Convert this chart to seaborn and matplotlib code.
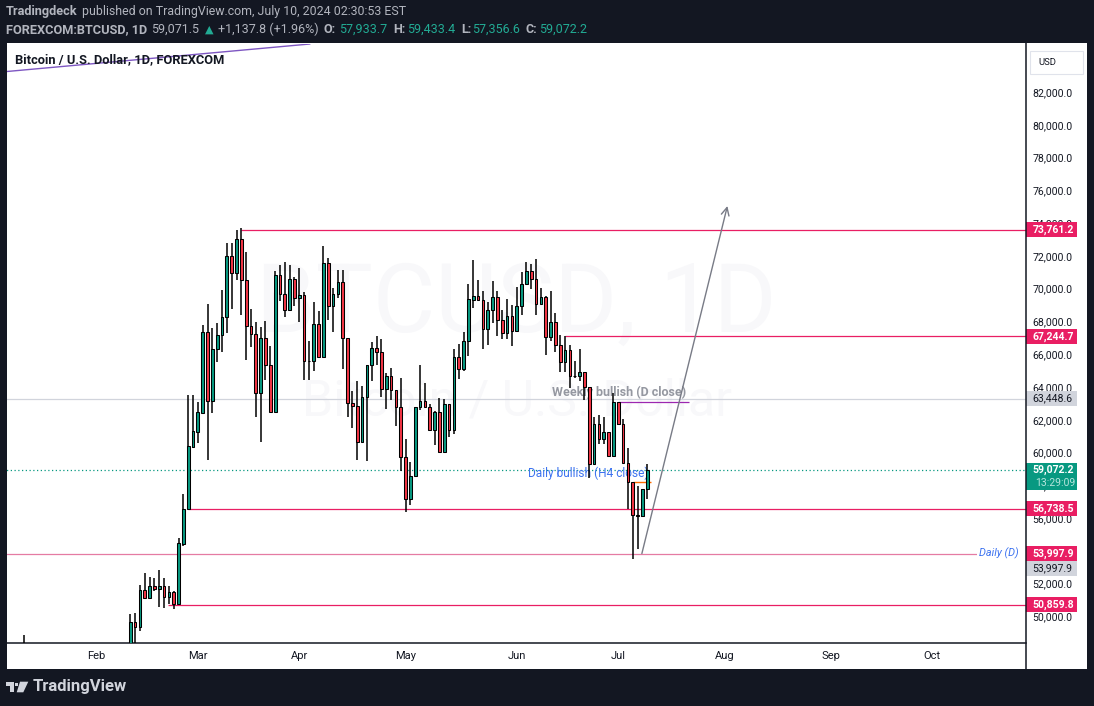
import matplotlib
matplotlib.use("Agg")
import matplotlib.pyplot as plt
from matplotlib.lines import Line2D
from matplotlib.patches import Polygon, Rectangle
import numpy as np
import pandas as pd
import seaborn as sns

# ── Data ──────────────────────────────────────────────────────────────────────
opens = [
    48114, 49823, 49536, 51757, 51305, 52001, 51855, 52001, 51366, 51635,
    50939, 54582, 56700, 60501, 61435, 62594, 67500, 63326, 66463, 67317,
    68415, 72138, 71100, 73175, 70673, 67866, 67378, 63778, 67134, 65486,
    62619, 70978, 69819, 68843, 70734, 69612, 69758, 65731, 65731, 67988,
    65975, 71711, 69123, 69819, 70551, 67134, 63168, 63033, 60825, 63534,
    65486, 66524, 66316, 64022, 64815, 63949, 62924, 59873, 57310, 58713,
    62924, 63290, 62960, 61539, 62619, 60178, 63107, 61539, 65975, 65279,
    66951, 69471, 69697, 69453, 67720, 68843, 69636, 68232, 67439, 68495,
    67598, 69087, 70429, 71222, 70722, 69245, 69636, 67232, 68110, 66695,
    65706, 66402, 64852, 64852, 65059, 64144, 59446, 61886, 60971, 61398,
    59934, 63229, 61886, 59507, 58347, 56333, 56272, 57933.7,
]
closes = [
    49823, 49536, 51757, 51305, 52001, 51855, 52001, 51366, 51635, 50939,
    54625, 56700, 60544, 61459, 62619, 67500, 63326, 66463, 67317, 68415,
    72138, 71100, 73175, 70673, 67866, 67378, 63778, 67134, 65486, 62619,
    70978, 69819, 68843, 70734, 69612, 69758, 65731, 65731, 67988, 65975,
    71711, 69123, 69819, 70551, 67134, 63168, 63033, 60825, 63534, 65486,
    66524, 66316, 64022, 64815, 63949, 62924, 59873, 57310, 58713, 62924,
    63290, 62960, 61539, 62619, 60178, 63107, 61539, 65975, 65279, 66951,
    69514, 69697, 69453, 67720, 68843, 69636, 68232, 67439, 68495, 67598,
    69087, 70429, 71222, 70722, 69245, 69636, 67232, 68110, 66695, 65706,
    66402, 64852, 64852, 65059, 64144, 59446, 61886, 60971, 61398, 59934,
    63229, 61886, 59507, 58347, 56333, 56272, 57920, 59072.2,
]
highs = [
    50311, 50372, 52080, 52813, 52569, 52508, 52996, 52508, 52019, 51714,
    54948, 57633, 63674, 63674, 63247, 67946, 69227, 67763, 68068, 70081,
    72949, 72949, 73743, 73846, 72382, 68922, 68110, 67805, 68171, 66664,
    71241, 71607, 71771, 71607, 70875, 71424, 69959, 66969, 69331, 68782,
    72748, 72016, 70185, 71283, 71302, 67134, 63918, 64528, 64223, 65486,
    66890, 67274, 67091, 64998, 65322, 63949, 64693, 60971, 59604, 62924,
    65486, 64388, 63107, 62698, 63473, 63412, 63107, 66481, 66768, 67500,
    70447, 71912, 70692, 70002, 69349, 70612, 70002, 68861, 69514, 69166,
    70283, 71161, 71771, 71668, 71955, 70185, 69715, 70002, 68660, 67317,
    67256, 66707, 65731, 66481, 65059, 64144, 62350, 62435, 62313, 61398,
    63778, 63229, 62210, 60422, 58347, 58140, 57920, 59433.4,
]
lows = [
    47800, 48419, 49273, 51305, 51305, 51714, 50756, 50695, 50921, 50634,
    50939, 54460, 56700, 60458, 60764, 62533, 59708, 62594, 65706, 66280,
    67457, 68940, 70692, 68556, 65810, 66621, 62350, 60825, 64590, 62619,
    62619, 69410, 68434, 68843, 69105, 68129, 64590, 64590, 65139, 65975,
    65975, 68251, 67518, 69575, 65279, 62350, 61661, 59708, 60825, 59647,
    64547, 65505, 63571, 62838, 63369, 61801, 59055, 56553, 56962, 58713,
    62759, 62924, 61496, 60623, 60178, 60178, 61130, 61294, 64669, 65157,
    66054, 69001, 69453, 66499, 66725, 68086, 67274, 67110, 67073, 66664,
    67598, 68574, 70429, 70142, 68574, 69245, 66115, 66951, 66316, 65096,
    65096, 64083, 64712, 64547, 63369, 58591, 59446, 60684, 60684, 59934,
    59934, 61825, 59507, 56700, 53649, 54295, 56212, 57356.6,
]
# lone January wick that pokes above the bottom of the pane
jan_bar, jan_high, jan_low = -22, 49029, 47500

month_pos = [-7, 14, 35, 57, 80, 101, 123, 145, 166]
month_labels = ["Feb", "Mar", "Apr", "May", "Jun", "Jul", "Aug", "Sep", "Oct"]
price_ticks = list(range(50000, 82001, 2000))

# ── Palette ───────────────────────────────────────────────────────────────────
DARK = "#131722"
GREEN = "#089981"
RED = "#f23645"
PINK = "#e91e63"
PINK_SOFT = "#e57ba3"
GREY_LINE = "#d1d4dc"
BLUE = "#3d73f0"
WATERMARK = "#f8f8fa"
HEAD_TEXT = "#b2b5be"
HEAD_VALUE = "#22ab94"

W, H = 1094, 706
sns.set_theme(style="white")
plt.rcParams["font.family"] = ["Roboto", "DejaVu Sans"]

fig = plt.figure(figsize=(W / 100, H / 100), dpi=100, facecolor=DARK)


def fx(x):
    return x / W


def fy(y):
    return 1 - y / H


def ftext(x, y, s, **kw):
    kw.setdefault("va", "center")
    kw.setdefault("color", HEAD_TEXT)
    kw.setdefault("fontsize", 9)
    return fig.text(fx(x), fy(y), s, **kw)


# white sheet behind pane and both scales
fig.add_artist(Rectangle((fx(7), fy(669)), fx(1080), 626 / H, transform=fig.transFigure,
                         facecolor="white", edgecolor="none", zorder=-5))

ax = fig.add_axes([fx(7), fy(643), fx(1018.5), 599 / H])
ax.set_facecolor("white")
ax.patch.set_alpha(0)

# ── Candles ───────────────────────────────────────────────────────────────────
candles = pd.DataFrame({"open": opens, "high": highs, "low": lows, "close": closes})
candles["bar"] = np.arange(len(candles))
wicks = pd.concat([
    candles[["bar", "high"]].rename(columns={"high": "price"}),
    candles[["bar", "low"]].rename(columns={"low": "price"}),
    pd.DataFrame({"bar": [jan_bar, jan_bar], "price": [jan_high, jan_low]}),
])
sns.lineplot(data=wicks, x="bar", y="price", units="bar", estimator=None, sort=False,
             color="black", linewidth=1.1, solid_capstyle="butt", legend=False,
             ax=ax, zorder=5)

body_low = candles[["open", "close"]].min(axis=1)
body_high = candles[["open", "close"]].max(axis=1)
body_colors = [GREEN if c >= o else RED for o, c in zip(opens, closes)]
ax.bar(candles["bar"], body_high - body_low, bottom=body_low, width=0.56,
       color=body_colors, edgecolor="black", linewidth=0.75, zorder=6)

# ── Horizontal levels and drawings ────────────────────────────────────────────
x_right = 186
ax.hlines(73761.2, 23, x_right, color=PINK, lw=0.9, zorder=3)
ax.hlines(67244.7, 90, x_right, color=PINK, lw=0.9, zorder=3)
ax.hlines(63448.6, -30, x_right, color=GREY_LINE, lw=0.9, zorder=3)
ax.hlines(59072.2, -30, x_right, color=GREEN, lw=0.9, linestyles=(0, (1, 2)), zorder=3)
ax.hlines(56738.5, 12, x_right, color=PINK, lw=0.9, zorder=3)
ax.hlines(53997.9, -30, x_right, color=PINK_SOFT, lw=0.9, zorder=3)
ax.hlines(50859.8, 7.8, x_right, color=PINK, lw=0.9, zorder=3)
ax.hlines(63229, 101, 115.6, color="#9c27b0", lw=0.9, zorder=3)
ax.hlines(58347, 104, 107.8, color="#ff6d00", lw=1.0, zorder=4)
ax.plot([-25.5, 37.2], [83414, 85092], color="#7e57c2", lw=1.0, zorder=3)

ax.annotate("", xy=(123.6, 75207), xytext=(105.9, 53998),
            arrowprops=dict(arrowstyle="->", color="#787b86", lw=1.0,
                            mutation_scale=14, shrinkA=0, shrinkB=0), zorder=7)

# watermarks
ax.text(80, 69100, "BTCUSD, 1D", fontsize=69, color=WATERMARK, ha="center", va="center", zorder=1)
ax.text(80, 63300, "Bitcoin / U.S. Dollar", fontsize=36, color=WATERMARK, ha="center", va="center", zorder=1)

# chart notes
ax.text(101.2, 63850, "Weekly bullish (D close)", fontsize=9, color="#9598a1", fontweight="bold",
        ha="center", va="center", zorder=4)
ax.text(94.9, 58880, "Daily bullish (H4 close)", fontsize=8.6, color=BLUE,
        ha="center", va="center", zorder=4)
ax.text(185, 54030, "Daily (D)  ", fontsize=7.8, color=BLUE, style="italic", ha="right", va="center",
        zorder=4, bbox=dict(facecolor="white", edgecolor="none", pad=1.5))

# ── Axes ──────────────────────────────────────────────────────────────────────
ax.set_xlim(-25.5, 185.3)
ax.set_ylim(48541, 85092)
ax.set_xlabel("")
ax.set_ylabel("")
ax.set_yticks([])
ax.set_xticks(month_pos)
ax.set_xticklabels(month_labels, fontsize=8, color=DARK)
ax.tick_params(axis="x", length=0, pad=6)
for side in ["top", "left", "right"]:
    ax.spines[side].set_visible(False)
ax.spines["bottom"].set_visible(True)
ax.spines["bottom"].set_color(DARK)
ax.spines["bottom"].set_linewidth(1.1)
# price scale divider runs down through the time scale
fig.add_artist(Line2D([fx(1025.5), fx(1025.5)], [fy(43), fy(669)], transform=fig.transFigure,
                      color=DARK, lw=1.1))

# ── Price scale ───────────────────────────────────────────────────────────────
scale = ax.get_yaxis_transform()
for tick in price_ticks:
    ax.annotate(f"{tick:,.1f}", xy=(1, tick), xycoords=scale, xytext=(5.2, 1.2),
                textcoords="offset points", fontsize=7.6, color=DARK, va="center",
                annotation_clip=False, zorder=8)


def price_tag(center, text, face, color="white", weight="bold", height=15, sub=None):
    ax.add_patch(Rectangle((1.0005, center - height * 61.02 / 2), 51 / 1018.5, height * 61.02,
                           transform=scale, facecolor=face, edgecolor="none",
                           clip_on=False, zorder=9))
    offset = 6.5 if sub else 0
    ax.annotate(text, xy=(1, center + offset * 61.02), xycoords=scale, xytext=(5.2, 0),
                textcoords="offset points", fontsize=7.6, color=color, fontweight=weight,
                va="center", annotation_clip=False, zorder=10)
    if sub:
        ax.annotate(sub, xy=(1, center - offset * 61.02), xycoords=scale, xytext=(7, 0),
                    textcoords="offset points", fontsize=7.6, color="#b5e5dc", va="center",
                    annotation_clip=False, zorder=10)


price_tag(73761.2, "73,761.2", PINK)
price_tag(67244.7, "67,244.7", PINK)
price_tag(63448.6, "63,448.6", GREY_LINE, color=DARK, weight="normal")
price_tag(58700, "59,072.2", GREEN, height=27, sub="13:29:09")
price_tag(56738.5, "56,738.5", PINK)
price_tag(53087, "53,997.9", GREY_LINE, color=DARK, weight="normal")
price_tag(53997.9, "53,997.9", PINK)
price_tag(50859.8, "50,859.8", PINK)

# USD box
fig.add_artist(Rectangle((fx(1030), fy(74)), fx(53), 23 / H, transform=fig.transFigure,
                         facecolor="white", edgecolor="#e0e3eb", linewidth=0.8))
ftext(1038, 62.5, "USD", fontsize=6.8, color=DARK)

# ── Header ────────────────────────────────────────────────────────────────────
ftext(15, 60, "Bitcoin / U.S. Dollar, 1D, FOREXCOM", color=DARK, fontsize=9.3, fontweight="bold")

ftext(6, 12, "Tradingdeck", fontweight="bold", fontsize=9.2)
ftext(82, 12, "published on TradingView.com, July 10, 2024 02:30:53 EST", fontsize=8.95)
ftext(6, 29.5, "FOREXCOM:BTCUSD, 1D", fontweight="bold", fontsize=9.2)
ftext(151, 29.5, "59,071.5")
ftext(205, 29.5, "▲", color=HEAD_VALUE, fontsize=8, family="DejaVu Sans")
ftext(218, 29.5, "+1,137.8 (+1.96%)")
for label, lx, value, vx in [("O:", 324, "57,933.7", 339), ("H:", 393, "59,433.4", 407),
                             ("L:", 461, "57,356.6", 472), ("C:", 526, "59,072.2", 539)]:
    ftext(lx, 29.5, label, fontweight="bold")
    ftext(vx, 29.5, value, color=HEAD_VALUE)

# ── Footer logo ───────────────────────────────────────────────────────────────
logo = [
    [(6, 681.7), (14, 681.7), (14, 692.3), (10, 692.3), (10, 685.7), (6, 685.7)],
    [(20, 681.7), (28.3, 681.7), (23.3, 692.3), (16.7, 692.3)],
]
for shape in logo:
    pts = [(fx(px), fy(py)) for px, py in shape]
    fig.add_artist(Polygon(pts, closed=True, transform=fig.transFigure, facecolor=GREY_LINE,
                           edgecolor="none"))
fig.add_artist(Rectangle((fx(15), fy(685.7)), fx(2.8), 2.8 / H, transform=fig.transFigure,
                         facecolor=GREY_LINE, edgecolor="none"))
ftext(33, 687, "TradingView", fontsize=12, color=GREY_LINE, fontweight="bold")

fig.savefig("out.png", dpi=100, facecolor=DARK)
